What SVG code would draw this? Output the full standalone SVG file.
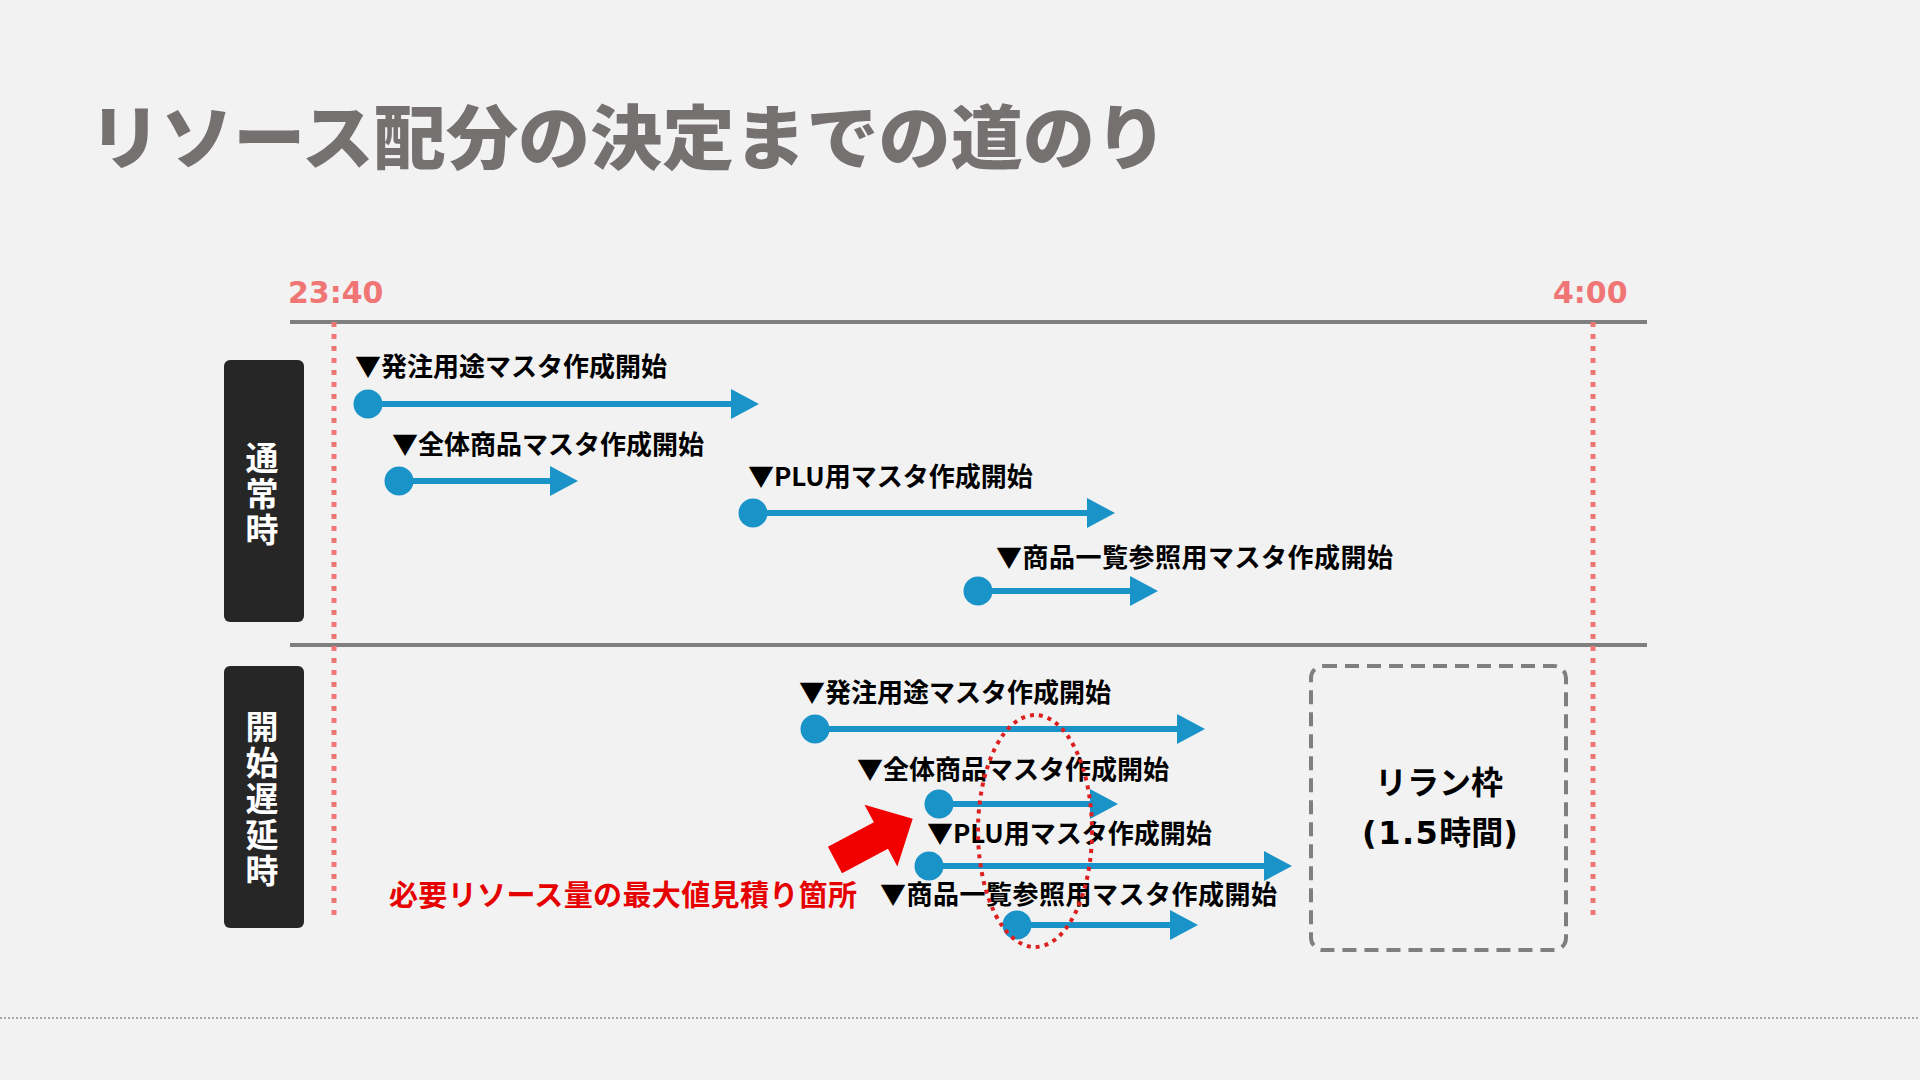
<svg xmlns="http://www.w3.org/2000/svg" width="1920" height="1080" viewBox="0 0 1920 1080">
<defs>
<style>
.bg{fill:#f2f2f2}
.title{font-family:"Noto Sans CJK JP",sans-serif;font-weight:900;font-size:70px;fill:#767171}
.time{font-family:"DejaVu Sans","Noto Sans CJK JP",sans-serif;font-weight:700;font-size:30px;fill:#f07575}
.axis{stroke:#7f7f7f;stroke-width:4;fill:none}
.vdot{stroke:#f07575;stroke-width:5;stroke-dasharray:5 7;fill:none}
.side{fill:#262626}
.sidetxt{font-family:"Noto Sans CJK JP",sans-serif;font-weight:700;font-size:33px;fill:#ffffff;text-anchor:middle;writing-mode:vertical-rl;letter-spacing:3px}
.lbl{font-family:"Noto Sans CJK JP",sans-serif;font-weight:700;font-size:26px;fill:#000000}
.arr{stroke:#1a94c8;stroke-width:6;fill:none;marker-start:url(#dot);marker-end:url(#head)}
.rerun{fill:none;stroke:#7f7f7f;stroke-width:4;stroke-dasharray:14 8}
.reruntxt{font-family:"DejaVu Sans","Noto Sans CJK JP",sans-serif;font-weight:700;font-size:32px;fill:#000000;text-anchor:middle}
.note{font-family:"Noto Sans CJK JP",sans-serif;font-weight:700;font-size:29px;fill:#e60000}
.oval{fill:none;stroke:#dd1f1f;stroke-width:4;stroke-dasharray:4 5}
.foot{stroke:#a6a6a6;stroke-width:2;stroke-dasharray:2 2}
</style>
<marker id="head" viewBox="0 0 28 30" refX="0" refY="15" markerWidth="28" markerHeight="30" markerUnits="userSpaceOnUse" orient="auto">
<path d="M0,0 L28,15 L0,30 Z" fill="#1a94c8"/>
</marker>
<marker id="dot" viewBox="0 0 30 30" refX="15" refY="15" markerWidth="30" markerHeight="30" markerUnits="userSpaceOnUse" orient="auto">
<circle cx="15" cy="15" r="14.5" fill="#1a94c8"/>
</marker>
</defs>
<rect class="bg" x="0" y="0" width="1920" height="1080"/>
<text id="title" class="title" x="89" y="164" textLength="1078" lengthAdjust="spacingAndGlyphs">リソース配分の決定までの道のり</text>

<g id="timeline">
<line class="axis" x1="290" y1="322" x2="1647" y2="322"/>
<line class="axis" x1="290" y1="645" x2="1647" y2="645"/>
<line class="vdot" x1="334" y1="322" x2="334" y2="917"/>
<line class="vdot" x1="1593" y1="322" x2="1593" y2="917"/>
<text id="t-start" class="time" x="288" y="303">23:40</text>
<text id="t-end" class="time" x="1553" y="303">4:00</text>
</g>

<g id="side-normal">
<rect class="side" x="224" y="360" width="80" height="262" rx="6"/>
<text class="sidetxt" x="262" y="495">通常時</text>
</g>
<g id="side-delay">
<rect class="side" x="224" y="666" width="80" height="262" rx="6"/>
<text class="sidetxt" x="262" y="800">開始遅延時</text>
</g>

<g id="n1"><text class="lbl" x="355" y="376">▼発注用途マスタ作成開始</text></g>
<g id="n2"><text class="lbl" x="392" y="454">▼全体商品マスタ作成開始</text></g>
<g id="n3"><text class="lbl" x="748" y="486">▼PLU用マスタ作成開始</text></g>
<g id="n4"><text class="lbl" x="996" y="567" textLength="397">▼商品一覧参照用マスタ作成開始</text></g>

<g id="d1"><text class="lbl" x="799" y="702">▼発注用途マスタ作成開始</text></g>
<g id="d2"><text class="lbl" x="857" y="779">▼全体商品マスタ作成開始</text></g>
<g id="d3"><text class="lbl" x="927" y="843">▼PLU用マスタ作成開始</text></g>
<g id="d4"><text class="lbl" x="880" y="904" textLength="397">▼商品一覧参照用マスタ作成開始</text></g>

<g id="connectors">
<line class="arr" x1="368" y1="404" x2="731" y2="404"/>
<line class="arr" x1="399" y1="481" x2="550" y2="481"/>
<line class="arr" x1="753" y1="513" x2="1087" y2="513"/>
<line class="arr" x1="978" y1="591" x2="1130" y2="591"/>
<line class="arr" x1="815" y1="729" x2="1177" y2="729"/>
<line class="arr" x1="939" y1="804" x2="1090" y2="804"/>
<line class="arr" x1="929" y1="866" x2="1264" y2="866"/>
<line class="arr" x1="1017" y1="925" x2="1170" y2="925"/>
</g>

<g id="rerun">
<rect class="rerun" x="1311" y="666" width="255" height="284" rx="12"/>
<text class="reruntxt" x="1439" y="794">リラン枠</text>
<text class="reruntxt" x="1440" y="844"><tspan letter-spacing="1.5">(1.5</tspan>時間)</text>
</g>

<g id="peak">
<ellipse class="oval" cx="1035" cy="831" rx="57" ry="116"/>
<polygon points="0,-15 52,-15 52,-35 88,0 52,35 52,15 0,15" fill="#f20000" transform="translate(835,860) rotate(-28)"/>
<text class="note" x="389" y="906" textLength="468">必要リソース量の最大値見積り箇所</text>
</g>

<line class="foot" x1="0" y1="1018" x2="1920" y2="1018"/>
</svg>
